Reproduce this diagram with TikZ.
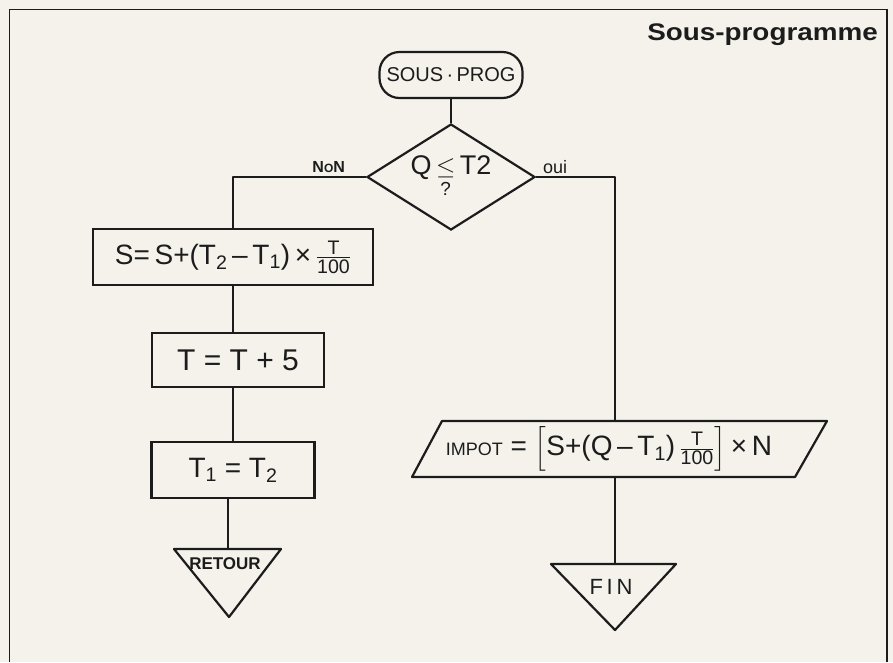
\documentclass[tikz,border=0pt]{standalone}
\usepackage{fontspec}
\usepackage{amsmath}
\setmainfont{Liberation Sans}
\usetikzlibrary{shapes.geometric}
\definecolor{paper}{RGB}{244,242,235}
\definecolor{ink}{RGB}{28,28,28}
\newcommand{\hs}[1]{\fontsize{#1}{#1}\selectfont}
\begin{document}
\begin{tikzpicture}[x=1pt,y=-1pt,
  every node/.style={text=ink},
  ln/.style={draw=ink, line width=2.2pt, line join=round},
  procbox/.style={draw=ink, line width=2.2pt, rectangle, inner sep=0pt, font=\hs{28}},
  lbl/.style={inner sep=1pt}]
\useasboundingbox (0,0) rectangle (893,662);
\fill[paper] (0,0) rectangle (893,662);
\draw[ink, line width=1.8pt] (9.5,662) -- (9.5,9.5) -- (887,9.5) -- (887,662);

\node[anchor=base east, inner sep=0pt, font=\bfseries\hs{24}] (title) at (878,40) {\scalebox{1.16}[1]{Sous-programme}};

% named free ends
\coordinate (ptop) at (615,421);
\coordinate (pbot) at (615,477);
\coordinate (rtop) at (228,549);
\coordinate (ftop) at (615,564);

% nodes
\node[procbox, rounded corners=20pt, minimum width=143pt, minimum height=46pt, font=\hs{20}] (start) at (451,75) {SOUS\,·\,PROG};
\node[draw=ink, line width=2.2pt, diamond, aspect=1.6, minimum width=168pt, minimum height=106pt, inner sep=0pt, font=\hs{27}] (q) at (451,177) {Q\,$\underset{\text{?}}{\leq}$\,T2};
\node[procbox, minimum width=280pt, minimum height=56pt] (sbox) at (233,257) {S=\,S+(T\textsubscript{2}\,–\,T\textsubscript{1})\,×\,$\frac{\text{T}}{\text{100}}$};
\node[procbox, minimum width=172pt, minimum height=54pt, font=\hs{30}] (tbox) at (238,360) {T = T + 5};
\node[procbox, minimum width=163pt, minimum height=56pt] (t1box) at (233,470) {T\textsubscript{1} = T\textsubscript{2}};

% parallelogram (input/output)
\draw[ln] (412,477) -- (442,421) -- (827,421) -- (795,477) -- cycle;
\node[font=\hs{28}] (imp) at (609,449) {{\hs{18}IMPOT} = $\left[\text{S+(Q\,–\,T\textsubscript{1})}\,\frac{\text{T}}{\text{100}}\right]$\,×\,N};

% end triangles
\draw[ln] (174,549) -- (281,549) -- (229,617) -- cycle;
\node[font=\bfseries\hs{17}] (ret) at (225,564) {RETOUR};
\draw[ln] (551,564) -- (676,564) -- (615,630) -- cycle;
\node[font=\hs{22}] (fin) at (611,587) {F\,I\,N};

% connectors
\draw[ln] (start) -- (q);
\draw[ln] (q.west) -| node[pos=0.14, above=2pt, lbl, font=\bfseries\hs{16}] {N{\hs{12}O}N} (sbox.north);
\draw[ln] (q.east) -| node[pos=0.12, above=1pt, lbl, font=\hs{18}] {oui} (ptop);
\draw[ln] (sbox.south) -- (sbox.south |- tbox.north);
\draw[ln] (t1box.north |- tbox.south) -- (t1box.north);
\draw[ln] (rtop |- t1box.south) -- (rtop);
\draw[ln] (pbot) -- (ftop);
\end{tikzpicture}
\end{document}
